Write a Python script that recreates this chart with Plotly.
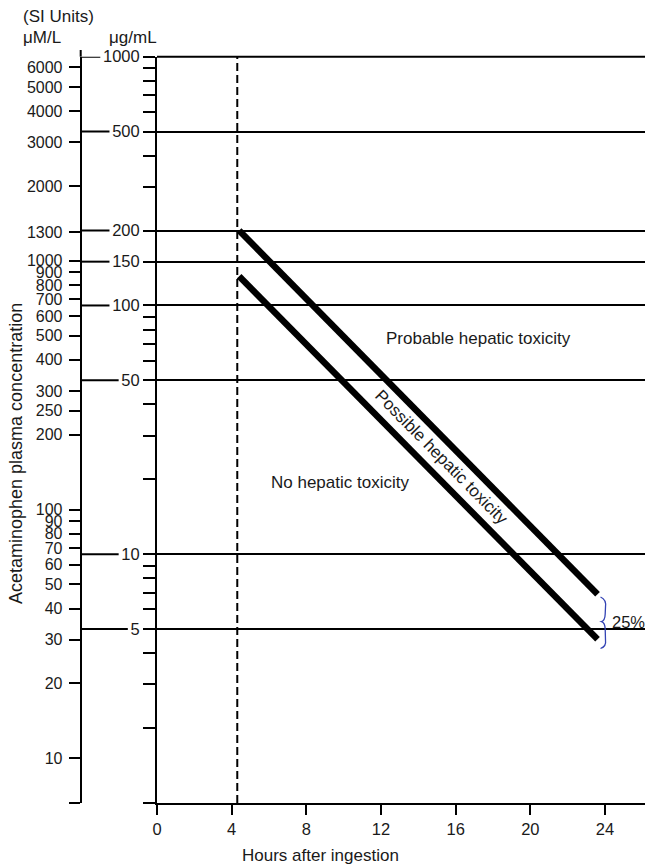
import numpy as np
import plotly.graph_objects as go

# ---------------- data ----------------
hour_ticks = [0, 4, 8, 12, 16, 20, 24]
ugml_major = [1000, 500, 200, 150, 100, 50, 10, 5]
ugml_minor = [900, 800, 700, 600, 400, 300, 90, 80, 70, 60, 40, 30, 20,
              9, 8, 7, 6, 4, 3, 2, 1]
um_labels = [6000, 5000, 4000, 3000, 2000, 1300, 1000, 900, 800, 700, 600,
             500, 400, 300, 250, 200, 100, 90, 80, 70, 60, 50, 40, 30, 20, 10]
UM_PER_UGML = 6.615          # 1 ug/mL acetaminophen = 6.615 uM/L

treatment_hour = 4.3         # dashed 4-hour line
probable_hours = [4.4, 23.6]
probable_conc = [200, 6.9]
possible_hours = [4.4, 23.6]
possible_conc = [131, 4.55]
y_min_ugml, y_max_ugml = 1, 1000

# ---------------- geometry / style ----------------
W, H = 645, 864
X0_PX, X24_PX, XR_PX = 157, 605, 645
Y_TOP_PX, Y_BOT_PX = 56.7, 803
UM_AXIS_PX = 80.7
px_per_hr = (X24_PX - X0_PX) / 24
x_max = (XR_PX - X0_PX) / px_per_hr

FONT = "Liberation Sans, Arial, Helvetica, sans-serif"
TXT = "#1a1a1a"
NUM_SIZE = 16.5
UM_SIZE = 16
TXT_SIZE = 17


def px(xp):
    return xp / W


def py(yp):
    return 1 - yp / H


fig = go.Figure()

# dashed treatment line
fig.add_trace(go.Scatter(x=[treatment_hour, treatment_hour],
                         y=[y_min_ugml, y_max_ugml], mode="lines",
                         line=dict(color="black", width=2, dash="8px,4px"),
                         showlegend=False, hoverinfo="skip"))
# nomogram lines
for hrs, conc in [(probable_hours, probable_conc), (possible_hours, possible_conc)]:
    fig.add_trace(go.Scatter(x=hrs, y=conc, mode="lines",
                             line=dict(color="black", width=6.5),
                             showlegend=False, hoverinfo="skip"))
# dummy trace for the uM/L axis
fig.add_trace(go.Scatter(x=[None], y=[None], yaxis="y2", showlegend=False,
                         hoverinfo="skip"))

tickfont = dict(family=FONT, size=NUM_SIZE, color=TXT)

shapes = []
# left connecting segments between uM axis and ug/mL labels
digit_w = 0.556 * NUM_SIZE
label_right = 139
for v in ugml_major:
    left = label_right - digit_w * len(str(v)) - 2
    shapes.append(dict(type="line", xref="paper", yref="y",
                       x0=px(UM_AXIS_PX + 1), x1=px(left), y0=v, y1=v,
                       line=dict(color="black", width=2)))
# top (1000 ug/mL) line across the plot: gridline at the edge is dropped by plotly
shapes.append(dict(type="line", xref="paper", yref="paper",
                   x0=px(X0_PX), x1=1, y0=py(Y_TOP_PX), y1=py(Y_TOP_PX),
                   line=dict(color="black", width=2)))
# top extension of uM axis
shapes.append(dict(type="line", xref="paper", yref="paper",
                   x0=px(UM_AXIS_PX), x1=px(UM_AXIS_PX),
                   y0=py(Y_TOP_PX), y1=py(50),
                   line=dict(color="black", width=2)))
# blue brace
pts = "M {} {} Q {} {} {} {} L {} {} Q {} {} {} {} Q {} {} {} {} L {} {} Q {} {} {} {}"
b = [(600.5, 597), (606.5, 599.5), (605.5, 607), (605.2, 614), (605, 620.5),
     (601.5, 621.5), (605, 622.5), (605.2, 629), (605.5, 640), (606.5, 646.5),
     (600.5, 648.5)]
path = pts.format(*[f"{v:.5f}" for p_ in b for v in (px(p_[0]), py(p_[1]))])
shapes.append(dict(type="path", xref="paper", yref="paper", path=path,
                   line=dict(color="#3343b4", width=1.3)))

annotations = [
    dict(text="(SI Units)", x=px(21), y=py(16.7), xanchor="left", size=TXT_SIZE),
    dict(text="μM/L", x=px(21), y=py(37), xanchor="left", size=TXT_SIZE),
    dict(text="μg/mL", x=px(107), y=py(37), xanchor="left", size=TXT_SIZE),
    dict(text="Acetaminophen plasma concentration", x=px(16), y=py(454),
         textangle=-90, size=18),
    dict(text="Hours after ingestion", x=px(320), y=py(855), size=TXT_SIZE),
    dict(text="25%", x=px(610), y=py(621.5), xanchor="left", size=NUM_SIZE),
]
for a in annotations:
    sz = a.pop("size")
    a.update(xref="paper", yref="paper", showarrow=False,
             font=dict(family=FONT, size=sz, color=TXT))
    a.setdefault("xanchor", "center")
    a.setdefault("yanchor", "middle")

# region labels in data coordinates
region_labels = [
    ("Probable hepatic toxicity", 17.2, 74, 0),
    ("No hepatic toxicity", 9.8, 19.5, 0),
    ("Possible hepatic toxicity", 15.25, 24.5, 45.4),
]
for t, hx, cy, ang in region_labels:
    annotations.append(dict(text=t, x=hx, y=np.log10(cy), xref="x", yref="y",
                            showarrow=False, textangle=ang,
                            font=dict(family=FONT, size=TXT_SIZE, color=TXT)))

fig.update_layout(
    width=W, height=H,
    margin=dict(l=0, r=0, t=0, b=0),
    paper_bgcolor="white", plot_bgcolor="white",
    showlegend=False,
    xaxis=dict(domain=[px(X0_PX), 1], range=[0, x_max], tickmode="array",
               tickvals=hour_ticks, ticktext=[str(v) for v in hour_ticks],
               ticks="outside", ticklen=10, tickwidth=2, tickcolor="black",
               showline=True, linewidth=2, linecolor="black",
               showgrid=False, zeroline=False, tickfont=tickfont,
               automargin=False),
    yaxis=dict(domain=[py(Y_BOT_PX), py(Y_TOP_PX)], type="log",
               range=[np.log10(y_min_ugml), np.log10(y_max_ugml)],
               tickmode="array", tickvals=ugml_major,
               ticktext=[str(v) for v in ugml_major],
               ticks="outside", ticklen=12, tickwidth=2, tickcolor="black",
               showline=True, linewidth=2, linecolor="black",
               showgrid=True, gridcolor="black", gridwidth=2,
               zeroline=False, tickfont=tickfont, automargin=False,
               minor=dict(tickmode="array", tickvals=ugml_minor,
                          ticks="outside", ticklen=12, tickwidth=2,
                          tickcolor="black", showgrid=False)),
    yaxis2=dict(type="log", overlaying="y", anchor="free",
                position=px(UM_AXIS_PX), side="left",
                range=[np.log10(UM_PER_UGML * y_min_ugml),
                       np.log10(UM_PER_UGML * y_max_ugml)],
                tickmode="array",
                tickvals=um_labels + [UM_PER_UGML * y_min_ugml],
                ticktext=[str(v) for v in um_labels] + [""],
                ticks="outside", ticklen=11, tickwidth=2, tickcolor="black",
                showline=True, linewidth=2, linecolor="black",
                showgrid=False, zeroline=False,
                tickfont=dict(family=FONT, size=UM_SIZE, color=TXT),
                ticklabelstandoff=3, automargin=False),
    shapes=shapes,
    annotations=annotations,
)

fig.write_html(
    "out.html",
    config={"displayModeBar": False},
    post_script="document.body.style.margin='0';document.body.style.overflow='hidden';",
)
